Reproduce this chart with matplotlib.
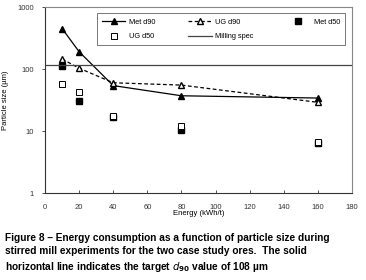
import numpy as np
import matplotlib
matplotlib.use("Agg")
import matplotlib.pyplot as plt

# values
energy = [10, 20, 40, 80, 160]
met_d90 = [450, 190, 54, 37, 34]
ug_d90 = [145, 103, 60, 55, 29]
met_d50 = [113, 30, 17, 10.5, 6.3]
ug_d50 = [58, 42, 17.5, 12, 6.6]
milling_spec = 115

xticks = [0, 20, 40, 60, 80, 100, 120, 140, 160, 180]
yticks = [1, 10, 100, 1000]

plt.rcParams['font.family'] = ['Liberation Sans', 'DejaVu Sans']

fig = plt.figure(figsize=(3.66, 2.8), dpi=100)
ax = fig.add_axes([45/366, 1 - 193/280, (352 - 45)/366, (193 - 7)/280])

h_met90, = ax.plot(energy, met_d90, color='black', lw=0.9, marker='^', ms=4,
                   mfc='black', label='Met d90')
h_ug90, = ax.plot(energy, ug_d90, color='black', lw=0.9, ls=(0, (3, 2)), marker='^', ms=4,
                  mfc='white', label='UG d90')
h_met50, = ax.plot(energy, met_d50, ls='none', marker='s', ms=4.5, color='black',
                   mfc='black', label='Met d50')
h_ug50, = ax.plot(energy, ug_d50, ls='none', marker='s', ms=5, color='black',
                  mfc='white', mew=0.7, label='UG d50')
h_spec = ax.axhline(milling_spec, color='#444444', lw=0.9, label='Milling spec')

ax.set_yscale('log')
ax.set_xlim(0, 180)
ax.set_ylim(1, 1000)
ax.set_xticks(xticks)
ax.set_xticklabels([str(t) for t in xticks])
ax.set_yticks(yticks)
ax.set_yticklabels([str(t) for t in yticks])
ax.yaxis.set_minor_locator(matplotlib.ticker.NullLocator())
ax.tick_params(axis='both', labelsize=5.5, length=2, width=0.6, colors='#333333')
ax.tick_params(axis='x', direction='in', pad=8)
ax.tick_params(axis='y', direction='out', pad=6)

for side in ['top', 'right']:
    ax.spines[side].set_color('#888888')
for side in ['left', 'bottom']:
    ax.spines[side].set_color('#333333')
for s in ax.spines.values():
    s.set_linewidth(0.8)

ax.set_ylabel('Particle size (µm)', fontsize=5.5, labelpad=6)
ax.set_xlabel('Energy (kWh/t)', fontsize=5.5, labelpad=-1)

# column-first fill: row 1 = Met d90, UG d90, Met d50; row 2 = UG d50, Milling spec
handles = [h_met90, h_ug50, h_ug90, h_spec, h_met50]
leg = ax.legend(handles=handles, labels=[h.get_label() for h in handles],
                ncol=3, fontsize=5.3, loc='upper left', mode='expand',
                bbox_to_anchor=(0.156, 0.985, 0.834, 0.0),
                frameon=True, fancybox=False, edgecolor='#555555',
                handlelength=3.2, handletextpad=0.5, borderpad=0.7, labelspacing=1.0)
leg.get_frame().set_linewidth(0.7)

caption = ("Figure 8 – Energy consumption as a function of particle size during\n"
           "stirred mill experiments for the two case study ores.  The solid\n"
           "horizontal line indicates the target $\\mathbf{\\it{d}}_{\\mathbf{90}}$ value of 108 µm")
fig.text(5/366, 1 - 233/280, caption, fontsize=7.3, fontweight='bold',
         va='top', ha='left', linespacing=1.4)

fig.savefig('out.png', dpi=100)
